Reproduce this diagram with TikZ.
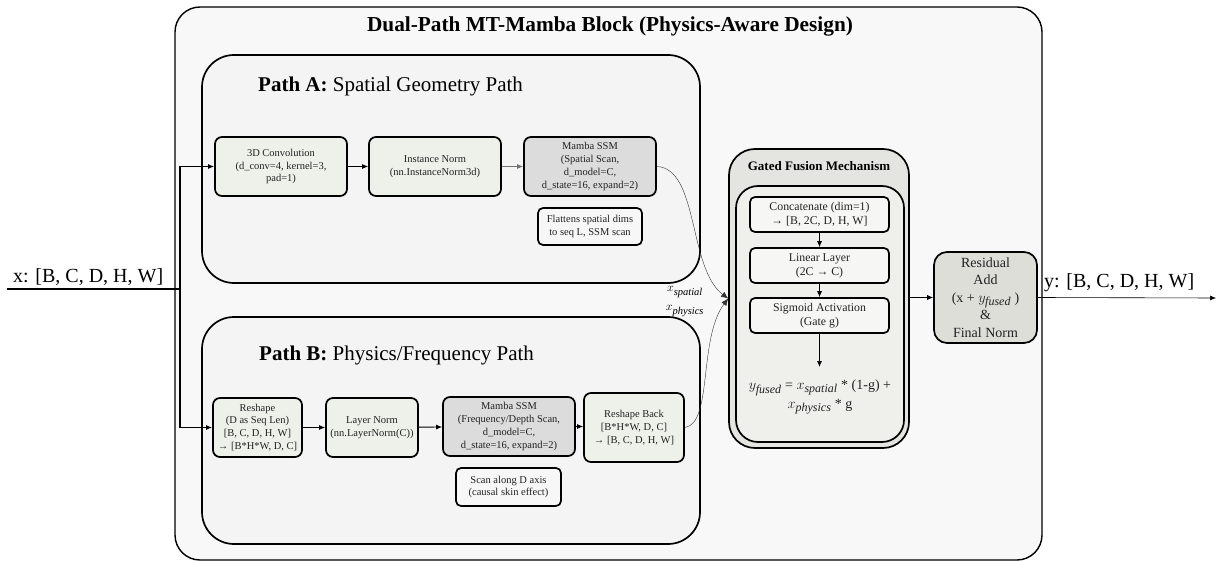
\documentclass[tikz,border=0pt]{standalone}
\usepackage{fontspec}
\setmainfont{Liberation Serif}
\usetikzlibrary{arrows.meta}
% roomy subscripts for the formulas
\DeclareMathSizes{12}{12}{10.5}{8}
\DeclareMathSizes{14}{14}{12}{10}
\definecolor{blockfill}{HTML}{F8F8F8}
\definecolor{pathfill}{HTML}{F4F4F4}
\definecolor{opfill}{HTML}{EEF1EA}
\definecolor{ssmfill}{HTML}{DCDCDC}
\definecolor{notefill}{HTML}{F7F7F7}
\definecolor{fuseout}{HTML}{E4E4E0}
\definecolor{fusein}{HTML}{EFEFEB}
\definecolor{fuseop}{HTML}{F6F6F4}
\definecolor{resfill}{HTML}{DEDED9}
\definecolor{inktext}{HTML}{222222}
\tikzset{
  container/.style={draw, line width=1.4pt, rounded corners=#1, inner sep=0pt},
  container/.default=30pt,
  opbox/.style={draw, line width=1.7pt, rounded corners=7pt, align=center,
    inner sep=1pt, text=inktext, font=\fontsize{10.5}{12.7}\selectfont},
  conv/.style={opbox, fill=opfill},
  ssm/.style={opbox, fill=ssmfill},
  note/.style={opbox, fill=notefill, rounded corners=5pt},
  fuseop/.style={opbox, fill=fuseop, rounded corners=5pt,
    font=\fontsize{11.8}{14}\selectfont},
  arr/.style={-{Latex[length=6pt,width=5pt]}, line width=0.9pt},
  flow/.style={-{Latex[length=7pt,width=6pt]}, line width=0.4pt, draw=black!80},
  shape lbl/.style={font=\fontsize{20}{22}\selectfont, inner sep=0pt},
}
\begin{document}
\begin{tikzpicture}[x=1pt,y=-1pt]
\useasboundingbox[fill=white] (0,0) rectangle (1225,561);

% main block and its title
\node[container=25pt, fill=blockfill, minimum width=867pt, minimum height=553pt] (block) at (608.5,283.5) {};
\node[font=\bfseries\fontsize{21.3}{24}\selectfont] (title) at (610,26) {Dual-Path MT-Mamba Block (Physics-Aware Design)};

% path containers
\node[container=32pt, line width=1.7pt, fill=pathfill, minimum width=498pt, minimum height=228pt] (pathA) at (451,169) {};
\node[container=32pt, line width=1.7pt, fill=pathfill, minimum width=498pt, minimum height=227pt] (pathB) at (451,430.5) {};
\node[anchor=base west, font=\fontsize{21}{24}\selectfont, inner sep=0pt] (titleA) at (258,92) {\textbf{Path A:} Spatial Geometry Path};
\node[anchor=base west, font=\fontsize{21}{24}\selectfont, inner sep=0pt] (titleB) at (259,360) {\textbf{Path B:} Physics/Frequency Path};

% path A operators
\node[conv, minimum width=132pt, minimum height=59pt] (convA) at (281,166.5) {3D Convolution\\(d\_conv=4, kernel=3,\\pad=1)};
\node[conv, minimum width=132pt, minimum height=59pt] (inorm) at (435,166.5) {Instance Norm\\(nn.InstanceNorm3d)};
\node[ssm, minimum width=132pt, minimum height=59pt] (mambaA) at (590,166.5) {Mamba SSM\\(Spatial Scan,\\d\_model=C,\\d\_state=16, expand=2)};
\node[note, minimum width=104pt, minimum height=37pt] (noteA) at (590,226.5) {Flattens spatial dims\\to seq L, SSM scan};

% path B operators
\node[conv, minimum width=89pt, minimum height=59pt] (reshape) at (257.5,427.5) {Reshape\\(D as Seq Len)\\{[}B, C, D, H, W{]}\\→ {[}B*H*W, D, C{]}};
\node[conv, minimum width=92pt, minimum height=59pt] (lnorm) at (372,427.5) {Layer Norm\\(nn.LayerNorm(C))};
\node[ssm, minimum width=132pt, minimum height=59pt] (mambaB) at (509,426.5) {Mamba SSM\\(Frequency/Depth Scan,\\d\_model=C,\\d\_state=16, expand=2)};
\node[conv, minimum width=100pt, minimum height=69pt] (rback) at (634,427.5) {Reshape Back\\{[}B*H*W, D, C{]}\\→ {[}B, C, D, H, W{]}};
\node[note, minimum width=105pt, minimum height=38pt] (noteB) at (508.5,487) {Scan along D axis\\(causal skin effect)};

% gated fusion
\node[container=26pt, line width=1.7pt, fill=fuseout, minimum width=180pt, minimum height=299pt] (fusion) at (819,298.5) {};
\node[container=22pt, line width=1.7pt, fill=fusein, minimum width=168pt, minimum height=256pt] (fusionin) at (820,314) {};
\node[font=\bfseries\fontsize{13}{15}\selectfont] (fusiontitle) at (819,166) {Gated Fusion Mechanism};
\node[fuseop, minimum width=139pt, minimum height=35pt] (concat) at (819.5,214.5) {Concatenate (dim=1)\\→ {[}B, 2C, D, H, W{]}};
\node[fuseop, minimum width=139pt, minimum height=35pt] (linear) at (819.5,265.5) {Linear Layer\\(2C → C)};
\node[fuseop, minimum width=139pt, minimum height=35pt] (sigmoid) at (819.5,315.5) {Sigmoid Activation\\(Gate g)};
\coordinate (gate) at (819.5,367);
\node[align=center, font=\fontsize{14}{18.5}\selectfont, text=inktext, inner sep=0pt] (formula) at (820,397)
  {$y_{\mathit{fused}}$ = $x_{\mathit{spatial}}$ * (1-g) +\\$x_{\mathit{physics}}$ * g};

% residual output stage
\node[opbox, fill=resfill, rounded corners=13pt, minimum width=103pt, minimum height=91pt,
  font=\fontsize{14}{17.5}\selectfont] (resid) at (985.5,297.5)
  {Residual\\Add\\(x + $y_{\mathit{fused}}$ )\\\&\\Final Norm};

% input and output
\coordinate (xin) at (7,289);
\coordinate (split) at (180,289);
\coordinate (yout) at (1216,298);
\node[shape lbl, anchor=base west] (inlbl) at (13,282) {x: [B, C, D, H, W]};
\node[shape lbl, anchor=base west] (outlbl) at (1044,287) {y: [B, C, D, H, W]};
\draw[line width=1.4pt] (xin) -- (split);
\draw[arr, line width=1.3pt] (split) |- (convA.west);
\draw[arr, line width=1.3pt] (split) |- (reshape.west);

% path A flow
\draw[arr] (convA) -- (inorm);
\draw[arr, draw=black!55] (inorm) -- (mambaA);
% path B flow
\draw[arr] (reshape) -- (lnorm);
\draw[arr] (lnorm) -- (mambaB);
\draw[arr] (mambaB.east) -- (rback.west |- mambaB.east);

% the two branches merge into the fusion block
\draw[flow] (mambaA.east) .. controls +(42,2) and +(-40,-30) .. (fusion.west);
\draw[flow] (rback.east) .. controls +(28,-4) and +(-30,40) .. (fusion.west);
\node[font=\fontsize{12}{13}\selectfont, inner sep=0pt] (xsp) at (685,292) {$x_{\mathit{spatial}}$};
\node[font=\fontsize{12}{13}\selectfont, inner sep=0pt] (xph) at (685,311) {$x_{\mathit{physics}}$};

% fusion internal flow
\draw[arr, line width=0.7pt] (concat) -- (linear);
\draw[arr, line width=0.7pt] (linear) -- (sigmoid);
\draw[arr, line width=0.7pt] (sigmoid) -- (gate);

% to residual and out
\draw[arr, line width=0.6pt] (fusion.east |- resid.west) -- (resid.west);
\draw[arr, line width=0.6pt] (resid.east) -- (yout);
\end{tikzpicture}
\end{document}
